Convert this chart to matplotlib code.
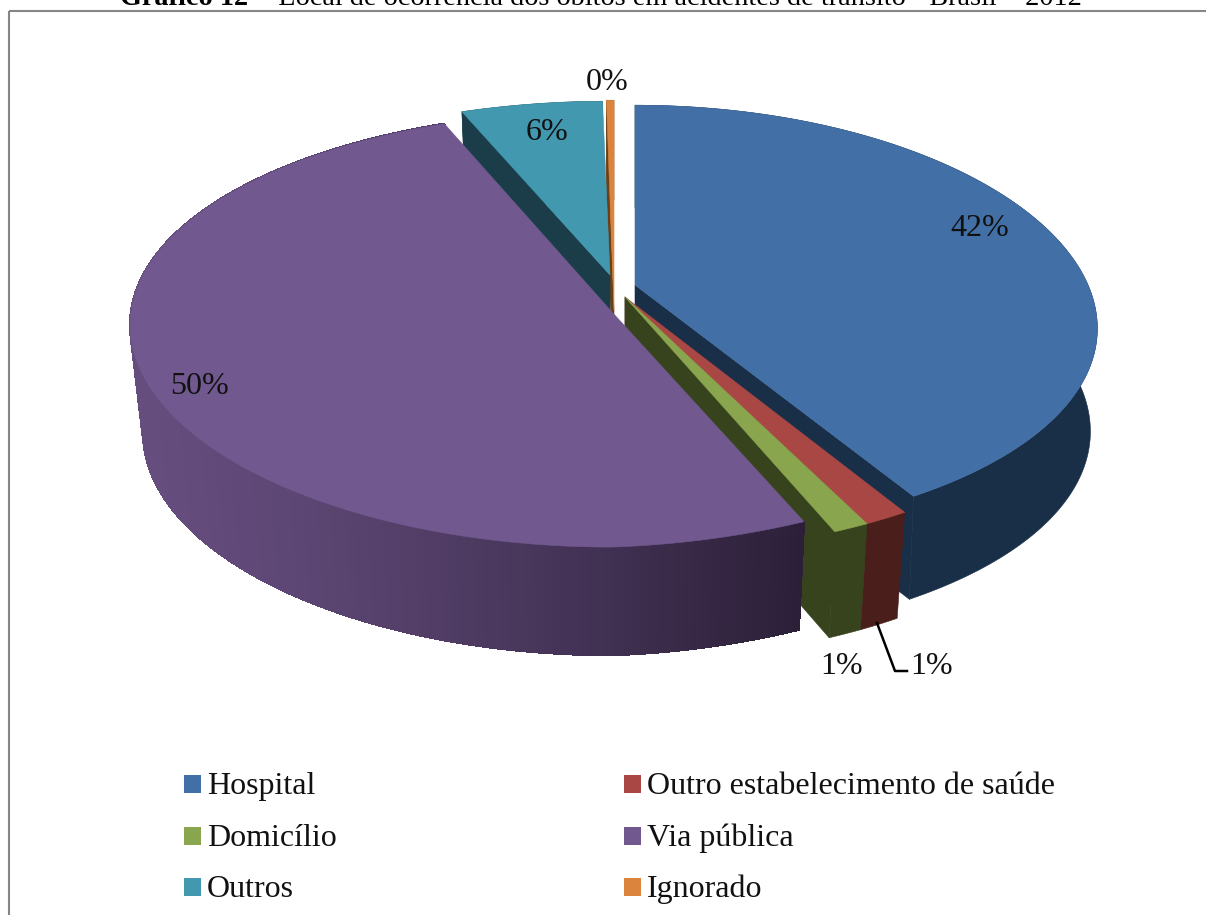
#!/usr/bin/env python3
"""Exploded 3D-look pie: local de ocorrencia dos obitos em acidentes de transito."""

import numpy as np
import matplotlib
matplotlib.use("Agg")
import matplotlib.pyplot as plt
from matplotlib.colors import to_rgb
from matplotlib.patches import Rectangle

plt.rcParams["font.family"] = ["Liberation Serif", "DejaVu Serif"]

categories = ["Hospital", "Outro estabelecimento de saúde", "Domicílio",
              "Via pública", "Outros", "Ignorado"]
values = [41.5, 1.3, 1.05, 50.15, 5.7, 0.3]

top_colors = ["#426fa5", "#a94744", "#89a54e", "#71588f", "#4198af", "#db843d"]
side_colors = ["#192e47", "#4a1e1b", "#37431d", "#2c2039", "#1a3d49", "#6b3f17"]

# hand-fitted projection for each slice:
# apex x, apex y, x radius, y radius, x perspective, y perspective, shear, bottom scale
proj = [
    (635, 285, 453, 210, 0.20, 0.168, 0, 0.985),
    (625, 297, 470, 214, 0.168, 0.168, 0, 0.973),
    (625, 297, 470, 214, 0.168, 0.168, 0, 0.973),
    (612, 312, 481, 217, 0.06, 0.077, -18, 0.973),
    (610, 275, 465, 203, 0.168, 0.168, 0, 0.973),
    (614, 310, 470, 245, 0.168, 0.168, 0, 0.973),
]
depth = [103, 106, 106, 108, 100, 100]
draw_order = [5, 4, 0, 1, 2, 3]
label_pos = [(980, 229), (932, 667), (842, 667), (200, 386), (547, 133), (607, 82)]

W, H = 1206, 915
fig = plt.figure(figsize=(W / 100, H / 100), dpi=100)
ax = fig.add_axes([0, 0, 1, 1])
ax.set_xlim(0, W)
ax.set_ylim(H, 0)
ax.axis("off")

ax.add_patch(Rectangle((8.5, 11), 1300, 950, fill=False, ec="#868686", lw=1.5))


def rim(theta, p):
    # theta in degrees clockwise from 12 o'clock
    x0, y0, a, b, kx, ky, shear, _ = p
    u = np.sin(np.radians(theta))
    v = -np.cos(np.radians(theta))
    return (x0 + a * u / (1 - kx * v),
            y0 + b * v / (1 - ky * v) + shear * np.maximum(u, 0))


def lower(x, y, p, d):
    # bottom face sits a bit narrower than the top one
    return p[0] + (x - p[0]) * p[7], y + d


def poly(xs, ys, color, **kw):
    ax.fill(xs, ys, fc=color, ec=color, lw=0.4, joinstyle="round", **kw)


edges = np.cumsum([0] + values) * 3.6

for i in draw_order:
    p, d = proj[i], depth[i]
    start, end = edges[i], edges[i + 1]
    x0, y0 = p[0], p[1]

    # cut faces, only the ones turned to the viewer
    for theta, show in ((start, np.sin(np.radians(start)) < 0),
                        (end, np.sin(np.radians(end)) > 0)):
        if show:
            xr, yr = rim(theta, p)
            xb, yb = lower(xr, yr, p, d)
            poly([x0, xr, xb, x0], [y0, yr, yb, y0 + d], side_colors[i])

    # outer wall
    thetas = np.linspace(start, end, max(4, int(end - start)) + 1)
    xt, yt = rim(thetas, p)
    xb, yb = lower(xt, yt, p, d)
    if categories[i] == "Via pública":
        # wall fades out towards the front right, in bands
        for j in range(len(thetas) - 1):
            f = np.clip((xt[j] - 140) / (800 - 140), 0, 1) ** 1.3
            color = np.array(to_rgb("#654d7e")) * (1 - f) + np.array(to_rgb(side_colors[i])) * f
            ax.fill([xt[j], xt[j + 1], xb[j + 1], xb[j]], [yt[j], yt[j + 1], yb[j + 1], yb[j]],
                    fc=color, ec=color, lw=1.0, antialiased=False)
    else:
        poly(np.r_[xt, xb[::-1]], np.r_[yt, yb[::-1]], side_colors[i])

    # top
    thetas = np.linspace(start, end, 200)
    xt, yt = rim(thetas, p)
    poly(np.r_[x0, xt], np.r_[y0, yt], top_colors[i])

for v, (x, y) in zip(values, label_pos):
    ax.text(x, y, f"{round(v)}%", fontsize=23, ha="center", va="center", color="#111111")

# leader line of the red slice
ax.plot([877, 895, 907], [623, 671, 671], color="black", lw=1.8)

# legend
legend_x = [184, 624]
legend_y = [784, 836, 887]
for i, name in enumerate(categories):
    col, row = i % 2, i // 2
    ax.add_patch(Rectangle((legend_x[col], legend_y[row] - 9), 17, 18, fc=top_colors[i], ec="none"))
    ax.text(legend_x[col] + 23, legend_y[row] + 10, name, fontsize=23, ha="left",
            va="baseline", color="#111111")

ax.text(120, 5, "Gráfico 12", fontsize=20.3, fontweight="bold", ha="left", va="baseline", color="black")
ax.text(257, 5, "– Local de ocorrência dos óbitos em acidentes de trânsito - Brasil – 2012",
        fontsize=20.3, ha="left", va="baseline", color="black")

fig.savefig("out.png", dpi=100)
